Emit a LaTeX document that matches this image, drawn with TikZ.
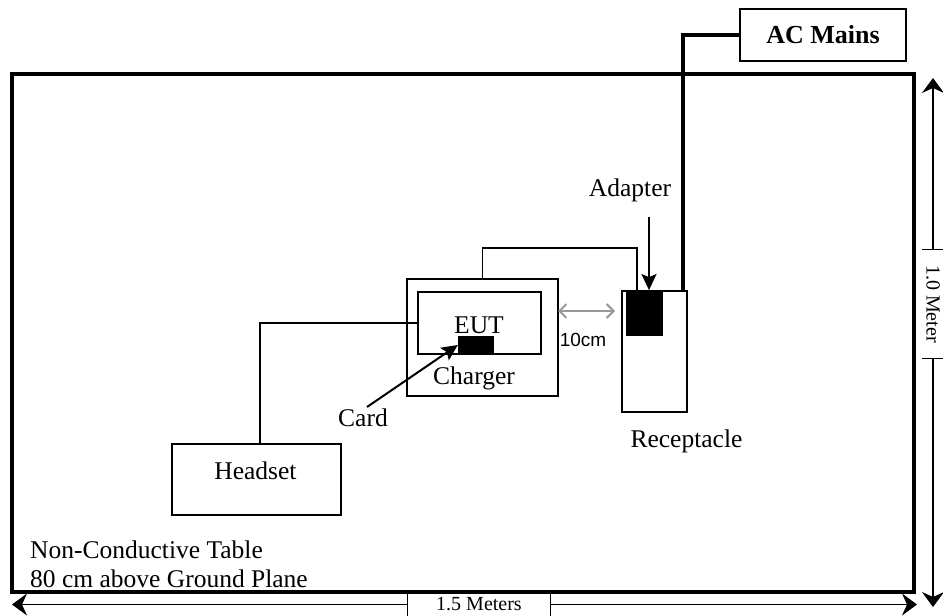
\documentclass[tikz,border=0pt]{standalone}
\usepackage{fontspec}
\setmainfont{Liberation Serif}
\newfontfamily\sansfont{Liberation Sans}
\usetikzlibrary{arrows.meta,calc}
\begin{document}
\begin{tikzpicture}[x=1pt,y=-1pt,
  box/.style={draw, line width=1.8pt, inner sep=0pt, rectangle},
  blk/.style={fill=black, draw=none, inner sep=0pt, rectangle},
  lbl/.style={font=\fontsize{25.5}{29}\selectfont, inner sep=0pt, anchor=base},
  dimlbl/.style={font=\fontsize{20}{24}\selectfont, inner sep=0pt},
  wire/.style={line width=1.8pt},
  mains/.style={line width=4pt},
  ptr/.style={line width=2pt, -{Stealth[length=16pt,width=15pt,inset=3pt]}},
  dimarr/.style={line width=1.3pt, -{Stealth[length=15pt,width=22pt,inset=5pt]}},
  tick/.style={line width=1.3pt},
  gaparr/.style={draw=black!40, line width=2pt, {Straight Barb[length=7pt,width=14pt]}-{Straight Barb[length=7pt,width=14pt]}}
]
\useasboundingbox (0,0) rectangle (943,616);

% table
\node[box, line width=3.5pt, minimum width=902pt, minimum height=518pt] (table) at (463,333) {};

% AC mains
\node[box, minimum width=166pt, minimum height=52pt, font=\bfseries\fontsize{26}{30}\selectfont] (acmains) at (823,35) {AC Mains};

% receptacle + adapter
\node[box, minimum width=65pt, minimum height=121pt] (recept) at (654.5,351.5) {};
\node[blk, minimum width=37pt, minimum height=44pt] (adapter) at (644.5,314) {};

% charger, EUT, card
\node[box, minimum width=151pt, minimum height=117pt] (charger) at (482.5,337.5) {};
\node[box, minimum width=123pt, minimum height=62pt] (eut) at (479.5,323) {};
\node[blk, minimum width=36pt, minimum height=18pt] (card) at (476,345) {};

% headset
\node[box, minimum width=169pt, minimum height=71pt] (headset) at (256.5,479.5) {};

% labels
\node[lbl] (eutlbl) at (479,333) {EUT};
\node[lbl] (chglbl) at (474,384) {Charger};
\node[lbl] (cardlbl) at (363,426) {Card};
\node[lbl] (hslbl) at (255.5,479) {Headset};
\node[lbl] (adlbl) at (630,196) {Adapter};
\node[lbl] (rclbl) at (686.5,447) {Receptacle};
\node[lbl, font=\sansfont\fontsize{19}{22}\selectfont] (gaplbl) at (583,346) {10cm};
\node[lbl, anchor=base west] (tbl1) at (30,558) {Non-Conductive Table};
\node[lbl, anchor=base west] (tbl2) at (30,587) {80 cm above Ground Plane};

% connectors
\coordinate (acdrop) at (683,291);
\draw[mains] (acmains.west) -| (acdrop);

\coordinate (adtail) at (649,217);
\draw[ptr] (adtail) -- (adtail |- recept.north);

\coordinate (cardtail) at (367,407);
\draw[ptr] (cardtail) -- (card.west);

\draw[wire] (eut.west) -| ($(headset.north)+(3.5,0)$);

\coordinate (rtop) at (637,291);
\draw[wire] (charger.north) -- ++(0,-30) -| (rtop);

\coordinate (g1) at (558,311);
\coordinate (g2) at (615,311);
\draw[gaparr] (g1) -- (g2);

% width dimension
\node[dimlbl, minimum width=142pt, minimum height=23pt] (wdim) at (479,604.5) {1.5 Meters};
\coordinate (wl) at (12,604.5);
\coordinate (wr) at (917,604.5);
\draw[dimarr] (wdim.west) -- (wl);
\draw[dimarr] (wdim.east) -- (wr);
\draw[tick] (wdim.north west) -- (wdim.south west);
\draw[tick] (wdim.north east) -- (wdim.south east);

% depth dimension
\node[dimlbl, rotate=-90, minimum width=108pt, minimum height=21pt] (hdim) at (933,304) {1.0 Meter};
\coordinate (vt) at (933,78);
\coordinate (vb) at (933,607);
\draw[dimarr] (hdim.west) -- (vt);
\draw[dimarr] (hdim.east) -- (vb);
\draw[tick] (hdim.north west) -- (hdim.south west);
\draw[tick] (hdim.north east) -- (hdim.south east);
\end{tikzpicture}
\end{document}
